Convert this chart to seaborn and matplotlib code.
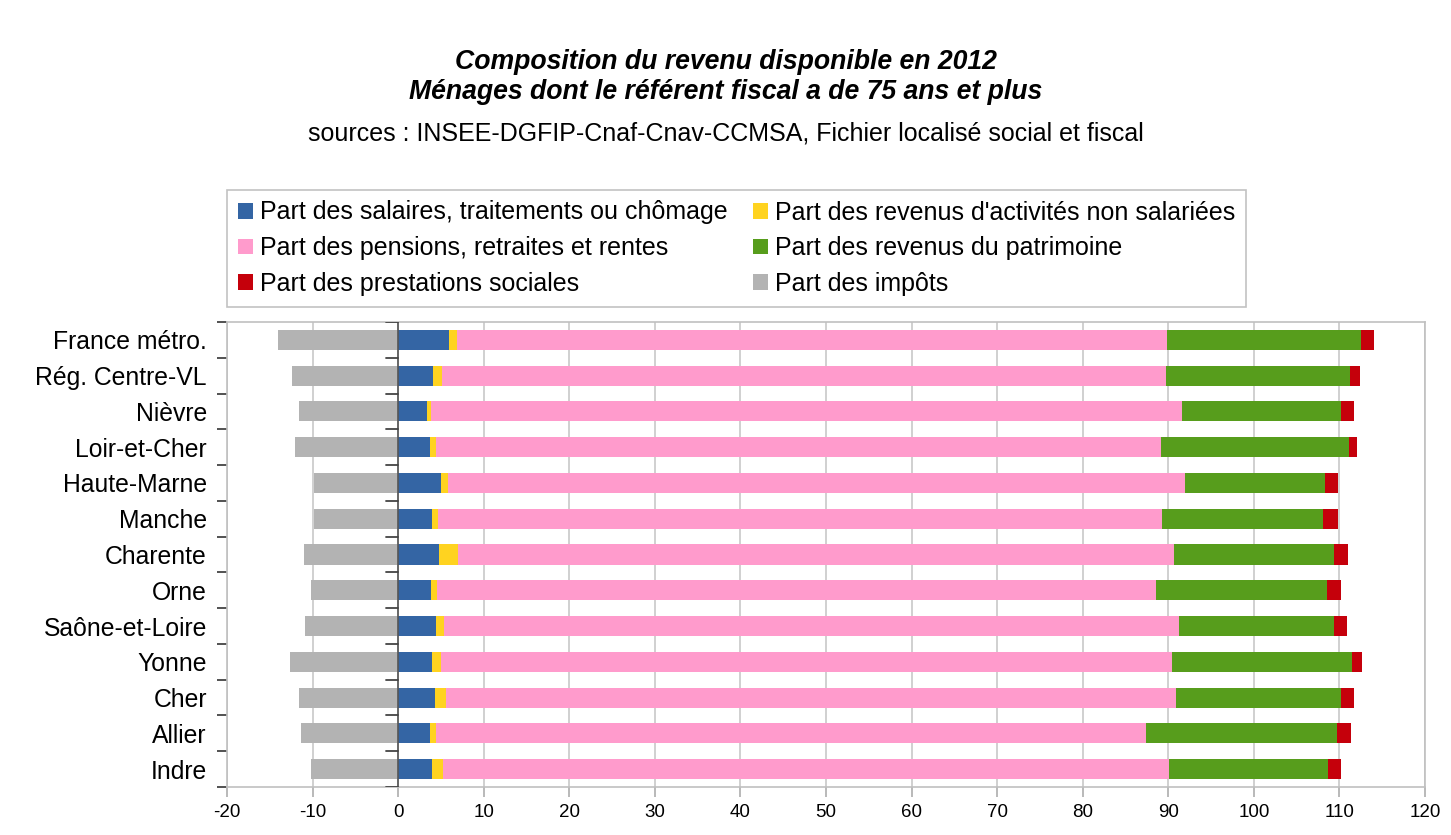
import numpy as np
import pandas as pd
import matplotlib
matplotlib.use("Agg")
import matplotlib.pyplot as plt
import seaborn as sns
from matplotlib.patches import Patch

categories = ["France métro.", "Rég. Centre-VL", "Nièvre", "Loir-et-Cher", "Haute-Marne",
              "Manche", "Charente", "Orne", "Saône-et-Loire", "Yonne", "Cher", "Allier", "Indre"]
salaires = [6.0, 4.1, 3.4, 3.75, 5.05, 3.97, 4.8, 3.85, 4.45, 3.97, 4.3, 3.75, 3.97]
non_salaries = [0.9, 1.0, 0.45, 0.7, 0.8, 0.7, 2.2, 0.7, 0.95, 1.03, 1.3, 0.7, 1.28]
pensions = [83.0, 84.65, 87.75, 84.75, 86.15, 84.63, 83.7, 84.05, 85.8, 85.4, 85.3, 82.95, 84.85]
patrimoine = [22.6, 21.45, 18.6, 21.9, 16.3, 18.8, 18.7, 20.0, 18.2, 21.1, 19.3, 22.3, 18.6]
prestations = [1.5, 1.2, 1.5, 1.0, 1.5, 1.7, 1.6, 1.6, 1.5, 1.1, 1.5, 1.7, 1.5]
impots = [-14.0, -12.4, -11.55, -12.0, -9.8, -9.8, -11.0, -10.15, -10.85, -12.6, -11.55, -11.3, -10.15]

labels = ["Part des salaires, traitements ou chômage",
          "Part des revenus d'activités non salariées",
          "Part des pensions, retraites et rentes",
          "Part des revenus du patrimoine",
          "Part des prestations sociales",
          "Part des impôts"]
colors = ["#3465a4", "#ffd320", "#ff9bcc", "#579d1c", "#c5000b", "#b3b3b3"]

df = pd.DataFrame({"cat": categories, "s": salaires, "n": non_salaries, "p": pensions,
                   "pat": patrimoine, "pr": prestations, "imp": impots})
df["c1"] = df["s"]
df["c2"] = df["c1"] + df["n"]
df["c3"] = df["c2"] + df["p"]
df["c4"] = df["c3"] + df["pat"]
df["c5"] = df["c4"] + df["pr"]

sns.set_theme(style="white")
plt.rcParams["font.family"] = ["Liberation Sans", "DejaVu Sans"]
plt.rcParams["text.color"] = "black"
plt.rcParams["axes.unicode_minus"] = False

fig = plt.figure(figsize=(14.51, 8.35), dpi=100)
ax = fig.add_axes([227/1451, 1-787/835, (1425-227)/1451, (787-322)/835])

width = 0.56
for col, color in zip(["c5", "c4", "c3", "c2", "c1"], colors[::-1][1:]):
    sns.barplot(data=df, y="cat", x=col, order=categories, color=color, orient="h",
                width=width, ax=ax, saturation=1, linewidth=0, zorder=3)
sns.barplot(data=df, y="cat", x="imp", order=categories, color=colors[5], orient="h",
            width=width, ax=ax, saturation=1, linewidth=0, zorder=3)

ax.set_xlim(-20, 120)
ax.set_ylim(len(categories) - 0.5, -0.5)
ax.set_xticks(np.arange(-20, 121, 10))
ax.set_xlabel("")
ax.set_ylabel("")
ax.xaxis.grid(True, color="#c8c8c8", linewidth=1.2, zorder=0)
ax.yaxis.grid(False)
ax.set_axisbelow(True)
for s in ax.spines.values():
    s.set_color("#c0c0c0")
    s.set_linewidth(1.2)
ax.axvline(0, color="#555555", linewidth=1.2, zorder=4)
ax.tick_params(axis="x", labelsize=13.5, length=7, direction="out", color="#b0b0b0",
               bottom=True, pad=5, labelcolor="black")
ax.tick_params(axis="y", which="major", labelsize=17.8, length=0, pad=14.5, labelcolor="black")
ax.set_yticks(np.arange(-0.5, len(categories), 1.0), minor=True)
ax.tick_params(axis="y", which="minor", left=True, length=7, direction="out",
               color="#333333", width=1.2)
# boundary ticks along the zero line
for b in np.arange(-0.5, len(categories), 1.0):
    ax.plot([-1.4, 0], [b, b], color="#444444", lw=1.3, zorder=5)

fig.text(0.5, 1-62/835, "Composition du revenu disponible en 2012", ha="center", va="center",
         fontsize=19.2, fontweight="bold", fontstyle="italic")
fig.text(0.5, 1-92/835, "Ménages dont le référent fiscal a de 75 ans et plus", ha="center", va="center",
         fontsize=19.2, fontweight="bold", fontstyle="italic")
fig.text(0.5, 1-134/835, "sources : INSEE-DGFIP-Cnaf-Cnav-CCMSA, Fichier localisé social et fiscal",
         ha="center", va="center", fontsize=18)

order_idx = [0, 2, 4, 1, 3, 5]
handles = [Patch(facecolor=colors[i], edgecolor="none") for i in order_idx]
leg = fig.legend(handles, [labels[i] for i in order_idx], ncol=2, loc="upper left",
                 bbox_to_anchor=(227/1451, 1-190/835), frameon=True, fontsize=18,
                 handlelength=0.6, handleheight=0.6, handletextpad=0.3, columnspacing=1.0,
                 labelspacing=0.47, borderpad=0.42, fancybox=False, borderaxespad=0)
leg.get_frame().set_edgecolor("#b3b3b3")
leg.get_frame().set_linewidth(1.2)

fig.savefig("out.png", dpi=100, facecolor="white")
